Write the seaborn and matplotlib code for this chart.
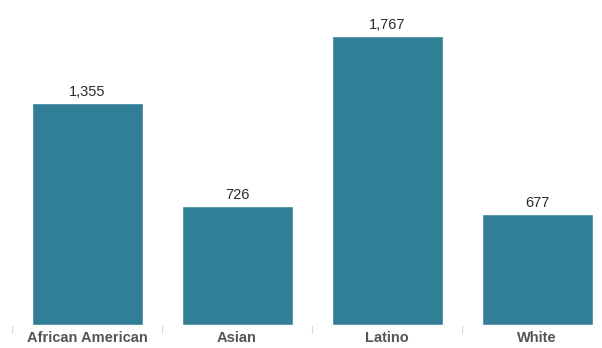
import matplotlib
matplotlib.use("Agg")
import matplotlib.pyplot as plt
import seaborn as sns
import pandas as pd

# chart data
groups = ["African American", "Asian", "Latino", "White"]
counts = [1355, 726, 1767, 677]

df = pd.DataFrame({"group": groups, "count": counts})

sns.set_theme(style="white")
plt.rcParams["font.family"] = ["Liberation Sans", "DejaVu Sans"]

fig = plt.figure(figsize=(6.02, 3.48), dpi=100)
ax = fig.add_axes([12 / 602, 23 / 348, 600 / 602, 325 / 348])

sns.barplot(data=df, x="group", y="count", color="#317f97", saturation=1,
            width=0.74, ax=ax)

ax.set_ylim(0, 1987)
ax.set_xlim(-0.5, len(groups) - 0.5)
ax.set_xlabel("")
ax.set_ylabel("")
ax.set_yticks([])
for side in ["top", "right", "left", "bottom"]:
    ax.spines[side].set_visible(False)

# value labels above each bar
for i, v in enumerate(counts):
    ax.annotate(f"{v:,}", (i, v), xytext=(0, 3), textcoords="offset points",
                ha="center", va="bottom", fontsize=10.5, color="#2b2b2b")

# category labels and light separator ticks
ax.set_xticks(range(len(groups)))
ax.set_xticklabels(groups, fontsize=10.5, fontweight="bold", color="#555555")
ax.tick_params(axis="x", which="major", length=0, pad=4)
ax.set_xticks([i - 0.5 for i in range(len(groups) + 1)], minor=True)
ax.tick_params(axis="x", which="minor", length=6, width=0.8, color="#d8d8d8",
               bottom=True)

fig.savefig("out.png", dpi=100)
